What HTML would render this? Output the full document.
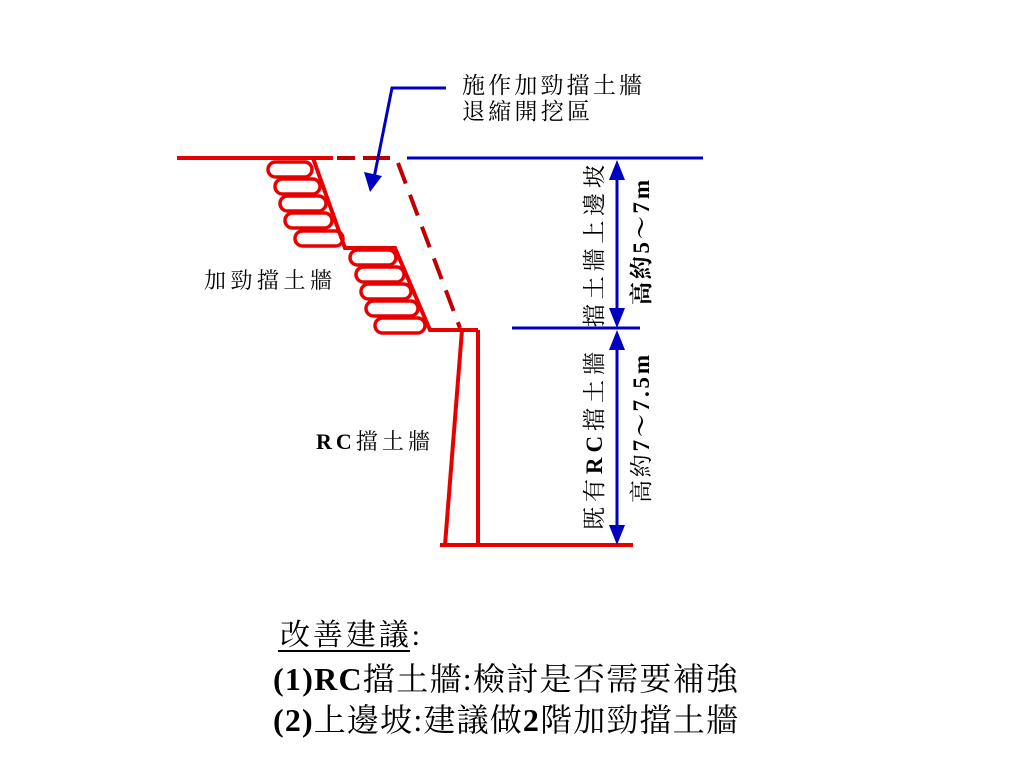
<!DOCTYPE html>
<html><head><meta charset="utf-8"><style>
html,body{margin:0;padding:0;background:#fff;}
svg{display:block;}
text{font-family:"Liberation Serif","Noto Serif CJK SC","Noto Sans CJK TC",serif;fill:#000;}
.b{font-weight:bold;}
</style></head><body>
<svg width="1024" height="768" viewBox="0 0 1024 768" xmlns="http://www.w3.org/2000/svg">
<line x1="177" y1="158" x2="333" y2="158" stroke="#e80000" stroke-width="4"/>
<line x1="337" y1="158" x2="355" y2="158" stroke="#c00000" stroke-width="4"/>
<line x1="363" y1="158" x2="390" y2="158" stroke="#c00000" stroke-width="4"/>
<line x1="407" y1="158" x2="703" y2="158" stroke="#0000c0" stroke-width="3"/>
<g fill="#fff" stroke="#e80000" stroke-width="3.5">
<rect x="268" y="162" width="44" height="15" rx="7.5"/>
<rect x="275" y="179" width="45" height="15" rx="7.5"/>
<rect x="280" y="196" width="46" height="15" rx="7.5"/>
<rect x="285" y="213" width="47" height="15" rx="7.5"/>
<rect x="295" y="231" width="48" height="15" rx="7.5"/>
<rect x="350" y="250" width="46" height="15" rx="7.5"/>
<rect x="356" y="267" width="48" height="15" rx="7.5"/>
<rect x="361" y="284" width="50" height="15" rx="7.5"/>
<rect x="366" y="301" width="52" height="15" rx="7.5"/>
<rect x="375" y="318" width="50" height="15" rx="7.5"/>
</g>
<polyline points="313,158 345,248 395,248 430,330 478,330" fill="none" stroke="#e80000" stroke-width="4"/>
<line x1="398" y1="163" x2="460" y2="328" stroke="#c00000" stroke-width="4" stroke-dasharray="22,12"/>
<line x1="462" y1="330" x2="445" y2="545" stroke="#e80000" stroke-width="4"/>
<line x1="478" y1="330" x2="478" y2="545" stroke="#e80000" stroke-width="4"/>
<line x1="440" y1="545" x2="633" y2="545" stroke="#e80000" stroke-width="4"/>
<line x1="512" y1="328" x2="640" y2="328" stroke="#0000c0" stroke-width="3"/>
<g stroke="#0000c0" stroke-width="3"><line x1="617" y1="170" x2="617" y2="318"/><line x1="617" y1="340" x2="617" y2="533"/></g>
<g fill="#0000c0">
<polygon points="617,160 609,180 625,180"/><polygon points="617,328 609,308 625,308"/>
<polygon points="617,330 609,350 625,350"/><polygon points="617,545 609,525 625,525"/>
</g>
<polyline points="446,88 392,88 374,178" fill="none" stroke="#0000c0" stroke-width="3"/>
<polygon points="370,192 364,172 382,176" fill="#0000c0"/>
<text x="462" y="93" font-size="23" textLength="180">施作加勁擋土牆</text>
<text x="462" y="119" font-size="23" textLength="128">退縮開挖區</text>
<text x="204" y="288" font-size="22" textLength="128">加勁擋土牆</text>
<text x="316" y="449" font-size="22" textLength="114"><tspan class="b">RC</tspan>擋土牆</text>
<text transform="translate(602,327) rotate(-90)" font-size="23" textLength="162">擋土牆上邊坡</text>
<text transform="translate(649,305) rotate(-90)" font-size="23" class="b" textLength="125">高約5～7m</text>
<text transform="translate(602,530) rotate(-90)" font-size="23" textLength="178">既有<tspan class="b">RC</tspan>擋土牆</text>
<text transform="translate(649,503) rotate(-90)" font-size="23" textLength="148">高約<tspan class="b">7～7.5m</tspan></text>
<text x="280" y="645" font-size="30" textLength="140">改善建議:</text>
<line x1="278" y1="651" x2="410" y2="651" stroke="#000" stroke-width="2"/>
<text x="273" y="690" font-size="32" textLength="465"><tspan class="b">(1)RC</tspan>擋土牆:檢討是否需要補強</text>
<text x="273" y="731" font-size="32" textLength="465"><tspan class="b">(2)</tspan>上邊坡:建議做<tspan class="b">2</tspan>階加勁擋土牆</text>
</svg>
</body></html>
